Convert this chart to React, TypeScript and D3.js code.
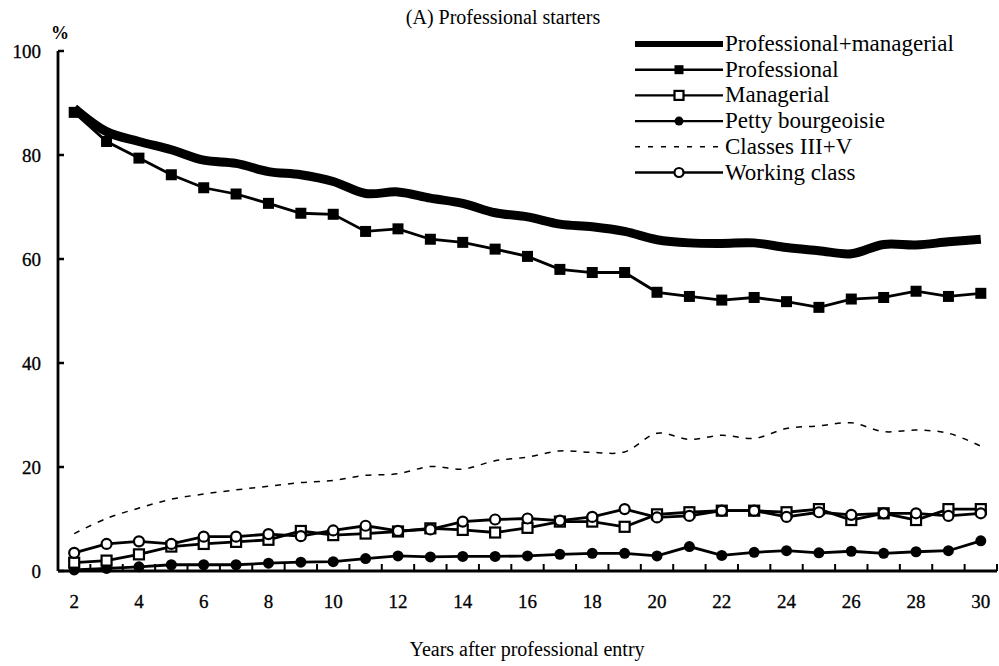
import React, { useEffect, useRef } from 'react';
import * as d3 from 'd3';

// years after professional entry (categories)
const years: number[] = [2, 3, 4, 5, 6, 7, 8, 9, 10, 11, 12, 13, 14, 15, 16, 17, 18, 19, 20, 21, 22, 23, 24, 25, 26, 27, 28, 29, 30];

// series values, in %
const profManagerial: number[] = [89.0, 84.5, 82.6, 81.0, 79.0, 78.4, 76.8, 76.2, 74.9, 72.6, 72.9, 71.7, 70.7, 68.9, 68.1, 66.7, 66.2, 65.3, 63.7, 63.1, 63.0, 63.1, 62.2, 61.6, 61.0, 62.8, 62.7, 63.3, 63.8];
const professional: number[] = [88.2, 82.6, 79.4, 76.2, 73.7, 72.5, 70.7, 68.8, 68.6, 65.3, 65.8, 63.8, 63.2, 61.9, 60.5, 58.0, 57.4, 57.4, 53.6, 52.8, 52.1, 52.6, 51.8, 50.7, 52.3, 52.6, 53.8, 52.8, 53.4];
const managerial: number[] = [1.6, 2.0, 3.2, 4.7, 5.2, 5.6, 6.0, 7.7, 6.9, 7.2, 7.6, 8.2, 7.9, 7.4, 8.3, 9.5, 9.5, 8.5, 10.9, 11.3, 11.6, 11.6, 11.3, 11.9, 9.8, 11.1, 9.8, 11.9, 11.9];
const pettyBourgeoisie: number[] = [0.2, 0.5, 0.8, 1.2, 1.2, 1.2, 1.5, 1.7, 1.8, 2.4, 2.9, 2.7, 2.8, 2.8, 2.9, 3.2, 3.4, 3.4, 2.9, 4.7, 3.0, 3.6, 3.9, 3.5, 3.8, 3.4, 3.7, 3.9, 5.8];
const classesIIIV: number[] = [7.2, 10.1, 12.1, 13.8, 14.8, 15.6, 16.3, 17.0, 17.4, 18.4, 18.7, 20.1, 19.6, 21.2, 21.9, 23.1, 22.8, 22.9, 26.5, 25.3, 26.1, 25.5, 27.4, 27.9, 28.5, 26.8, 27.1, 26.5, 24.0];
const workingClass: number[] = [3.5, 5.2, 5.7, 5.2, 6.6, 6.6, 7.1, 6.7, 7.8, 8.7, 7.7, 8.0, 9.5, 9.9, 10.1, 9.7, 10.4, 11.9, 10.3, 10.6, 11.6, 11.6, 10.4, 11.3, 10.8, 11.1, 11.1, 10.6, 11.1];

const yTicks: number[] = [0, 20, 40, 60, 80, 100];
const xTickLabels: number[] = [2, 4, 6, 8, 10, 12, 14, 16, 18, 20, 22, 24, 26, 28, 30];

const legendLabels: string[] = ['Professional+managerial', 'Professional', 'Managerial', 'Petty bourgeoisie', 'Classes III+V', 'Working class'];

type Marker = 'none' | 'fsquare' | 'osquare' | 'fcircle' | 'ocircle';

const App: React.FC = () => {
  const svgRef = useRef<SVGSVGElement | null>(null);

  useEffect(() => {
    const width = 999;
    const height = 666;
    const left = 58;
    const right = 997;
    const top = 51;
    const bottom = 571;
    const font = '"Liberation Serif", "Times New Roman", serif';

    const svg = d3.select(svgRef.current);
    svg.selectAll('*').remove();
    svg.attr('width', width).attr('height', height);

    svg.append('rect').attr('width', width).attr('height', height).attr('fill', '#fff');

    const x = d3.scalePoint<number>().domain(years).range([left, right]).padding(0.5);
    const band = x.step();
    const y = d3.scaleLinear().domain([0, 100]).range([bottom, top]);

    // title
    svg.append('text')
      .attr('x', 503).attr('y', 24)
      .attr('text-anchor', 'middle')
      .attr('font-family', font).attr('font-size', 20)
      .text('(A) Professional starters');

    // y axis
    svg.append('line')
      .attr('x1', left).attr('x2', left).attr('y1', top).attr('y2', bottom)
      .attr('stroke', '#000').attr('stroke-width', 2.8);
    svg.append('g').selectAll('line')
      .data(yTicks)
      .enter()
      .append('line')
      .attr('x1', left).attr('x2', left + 6)
      .attr('y1', d => y(d)).attr('y2', d => y(d))
      .attr('stroke', '#000').attr('stroke-width', 2.5);
    svg.append('g').selectAll('text')
      .data(yTicks)
      .enter()
      .append('text')
      .attr('x', 41).attr('y', d => y(d) + 7)
      .attr('text-anchor', 'end')
      .attr('font-family', font).attr('font-size', 19)
      .attr('stroke', '#000').attr('stroke-width', 0.3)
      .text(d => d);
    svg.append('text')
      .attr('x', 60).attr('y', 39)
      .attr('text-anchor', 'middle')
      .attr('font-family', font).attr('font-size', 18).attr('font-weight', 'bold')
      .text('%');

    // x axis, ticks between categories
    svg.append('line')
      .attr('x1', left).attr('x2', right).attr('y1', bottom).attr('y2', bottom)
      .attr('stroke', '#000').attr('stroke-width', 2.8);
    const boundaries = years.map(d => (x(d) as number) - band / 2).concat([right]);
    svg.append('g').selectAll('line')
      .data(boundaries)
      .enter()
      .append('line')
      .attr('x1', d => d).attr('x2', d => d)
      .attr('y1', bottom).attr('y2', bottom - 7)
      .attr('stroke', '#000').attr('stroke-width', 2);
    svg.append('g').selectAll('text')
      .data(xTickLabels)
      .enter()
      .append('text')
      .attr('x', d => x(d) as number).attr('y', 608)
      .attr('text-anchor', 'middle')
      .attr('font-family', font).attr('font-size', 19)
      .attr('stroke', '#000').attr('stroke-width', 0.3)
      .text(d => d);
    svg.append('text')
      .attr('x', 527).attr('y', 656)
      .attr('text-anchor', 'middle')
      .attr('font-family', font).attr('font-size', 20)
      .text('Years after professional entry');

    const straight = d3.line<number>()
      .x((_, i) => x(years[i]) as number)
      .y(d => y(d));
    const smooth = d3.line<number>()
      .x((_, i) => x(years[i]) as number)
      .y(d => y(d))
      .curve(d3.curveCatmullRom.alpha(0.5));

    const drawMarkers = (g: d3.Selection<SVGGElement, unknown, null, undefined>, pts: [number, number][], m: Marker, s: number) => {
      if (m === 'fsquare' || m === 'osquare') {
        g.selectAll('rect.m')
          .data(pts)
          .enter()
          .append('rect')
          .attr('class', 'm')
          .attr('x', d => d[0] - s / 2).attr('y', d => d[1] - s / 2)
          .attr('width', s).attr('height', s)
          .attr('fill', m === 'fsquare' ? '#000' : '#fff')
          .attr('stroke', '#000').attr('stroke-width', m === 'fsquare' ? 0 : 2.2);
      } else if (m === 'fcircle' || m === 'ocircle') {
        g.selectAll('circle.m')
          .data(pts)
          .enter()
          .append('circle')
          .attr('class', 'm')
          .attr('cx', d => d[0]).attr('cy', d => d[1])
          .attr('r', s / 2)
          .attr('fill', m === 'fcircle' ? '#000' : '#fff')
          .attr('stroke', '#000').attr('stroke-width', m === 'fcircle' ? 0 : 2.2);
      }
    };

    const plot = svg.append('g');

    // dashed Classes III+V
    plot.append('path')
      .attr('d', smooth(classesIIIV))
      .attr('fill', 'none').attr('stroke', '#000').attr('stroke-width', 1.5)
      .attr('stroke-dasharray', '6,7');

    const markerSeries: { data: number[]; marker: Marker; size: number }[] = [
      { data: pettyBourgeoisie, marker: 'fcircle', size: 11 },
      { data: managerial, marker: 'osquare', size: 10 },
      { data: workingClass, marker: 'ocircle', size: 10 },
      { data: professional, marker: 'fsquare', size: 11 },
    ];
    markerSeries.forEach(s => {
      const g = plot.append('g');
      g.append('path')
        .attr('d', straight(s.data))
        .attr('fill', 'none').attr('stroke', '#000').attr('stroke-width', 2.8);
      const pts: [number, number][] = s.data.map((d, i) => [x(years[i]) as number, y(d)]);
      drawMarkers(g, pts, s.marker, s.size);
    });

    // thick Professional+managerial
    plot.append('path')
      .attr('d', smooth(profManagerial))
      .attr('fill', 'none').attr('stroke', '#000').attr('stroke-width', 9)
      .attr('stroke-linejoin', 'round');

    // legend
    const legendMarkers: Marker[] = ['none', 'fsquare', 'osquare', 'fcircle', 'none', 'ocircle'];
    const lx1 = 635;
    const lx2 = 723;
    const legend = svg.append('g');
    legendLabels.forEach((label, i) => {
      const ly = 44 + i * 25.7;
      const row = legend.append('g');
      if (i === 0) {
        row.append('line').attr('x1', lx1).attr('x2', lx2).attr('y1', ly).attr('y2', ly)
          .attr('stroke', '#000').attr('stroke-width', 6);
      } else if (i === 4) {
        row.append('line').attr('x1', lx1).attr('x2', lx2).attr('y1', ly).attr('y2', ly)
          .attr('stroke', '#000').attr('stroke-width', 1.4).attr('stroke-dasharray', '5,8');
      } else {
        row.append('line').attr('x1', lx1).attr('x2', lx2).attr('y1', ly).attr('y2', ly)
          .attr('stroke', '#000').attr('stroke-width', 2.4);
        drawMarkers(row, [[(lx1 + lx2) / 2, ly]], legendMarkers[i], 9);
      }
      row.append('text')
        .attr('x', lx2 + 2).attr('y', ly + 7)
        .attr('font-family', font).attr('font-size', 23)
        .text(label);
    });
  }, []);

  return <svg ref={svgRef} style={{ position: 'absolute', left: 0, top: 0 }}></svg>;
};

export default App;
